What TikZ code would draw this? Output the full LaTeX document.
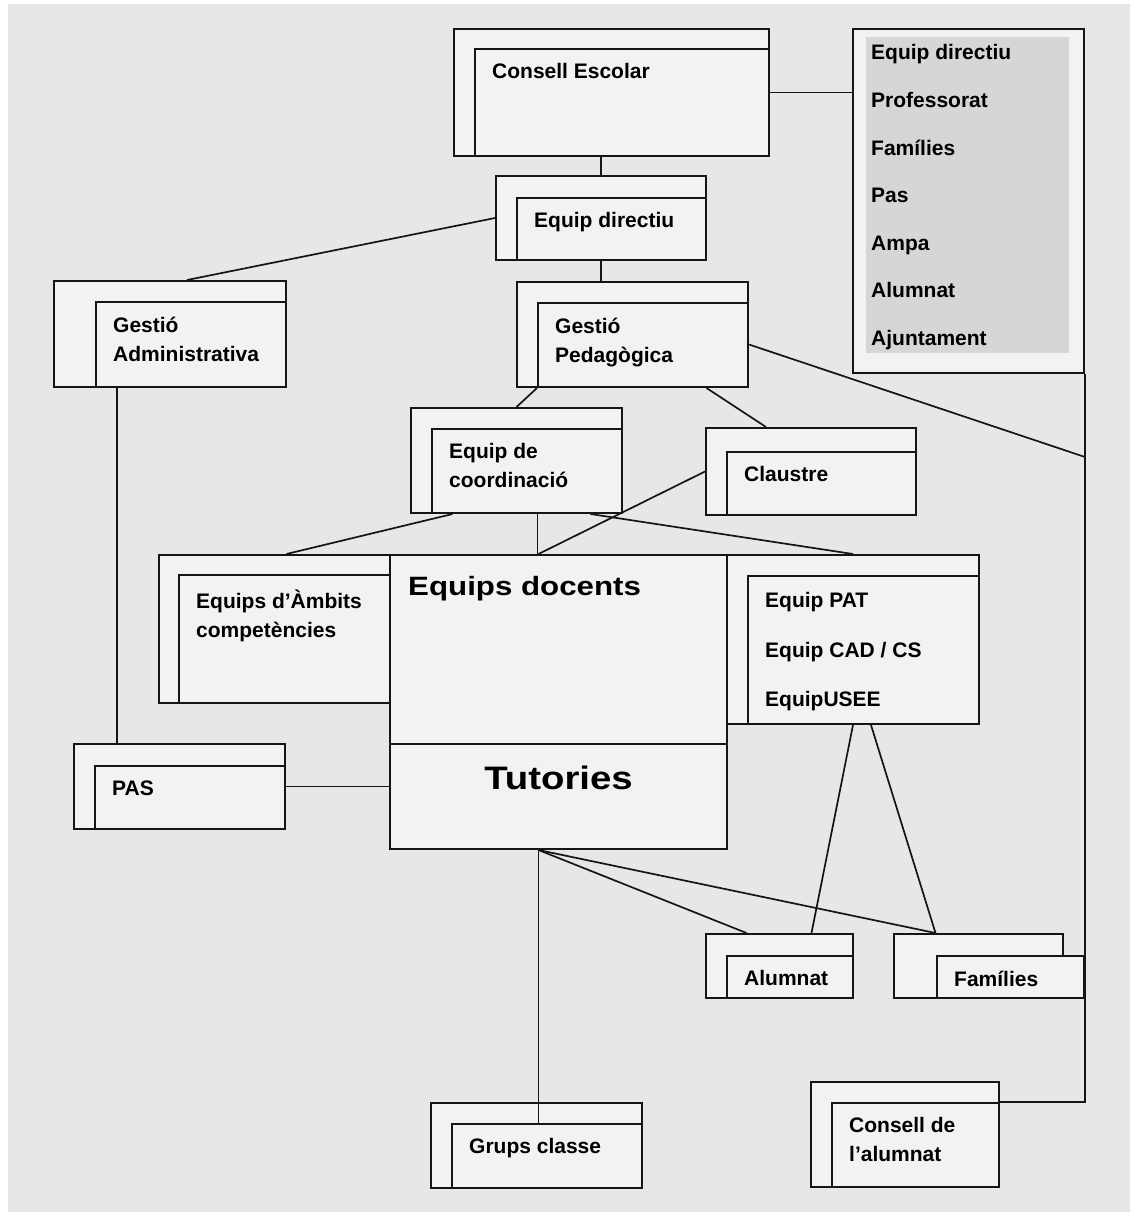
\documentclass[tikz,border=0pt]{standalone}
\usepackage{fontspec}
\setmainfont{Liberation Sans}
\newfontfamily\widefont[FakeStretch=1.18]{Liberation Sans}
\definecolor{scan}{HTML}{E7E7E7}
\definecolor{paper}{HTML}{F2F2F2}
\definecolor{shade}{HTML}{D6D6D6}
\definecolor{ink}{HTML}{151515}

\begin{document}
\begin{tikzpicture}[x=1pt,y=-1pt,
  outerbox/.style={draw=ink,fill=paper,line width=2pt,anchor=north west,inner sep=0pt},
  innerbox/.style={draw=ink,fill=paper,line width=2pt,anchor=south east,inner sep=0pt},
  lbl/.style={anchor=north west,align=left,inner sep=0pt,font=\fontsize{21}{29}\selectfont\bfseries},
  conn/.style={draw=ink,line width=1.7pt}]
\useasboundingbox (0,0) rectangle (1135,1216);
\fill[white] (0,0) rectangle (1135,1216);
\fill[scan] (8,4) rectangle (1130,1212);

% consell escolar i membres
\node[outerbox,minimum width=315pt,minimum height=127pt] (ce) at (453,28) {};
\node[innerbox,minimum width=294pt,minimum height=107pt] (cein) at (ce.south east) {};
\node[lbl] (celbl) at ([xshift=18pt,yshift=-15.5pt]cein.north west) {Consell Escolar};
\node[outerbox,minimum width=231pt,minimum height=344pt] (lst) at (852,28) {};
\node[anchor=north west,fill=shade,inner sep=0pt,minimum width=203pt,minimum height=316pt] (lstshade) at (866,37) {};
\node[lbl,font=\fontsize{21}{47.6}\selectfont\bfseries] (lstlbl) at (871,44.5) {Equip directiu\\Professorat\\Famílies\\Pas\\Ampa\\Alumnat\\Ajuntament};

% direccio i gestio
\node[outerbox,minimum width=210pt,minimum height=84pt] (dir) at (495,175) {};
\node[innerbox,minimum width=189pt,minimum height=62pt] (dirin) at (dir.south east) {};
\node[lbl] (dirlbl) at ([xshift=18pt,yshift=-15.5pt]dirin.north west) {Equip directiu};
\node[outerbox,minimum width=231pt,minimum height=105pt] (gp) at (516,281) {};
\node[innerbox,minimum width=210pt,minimum height=84pt] (gpin) at (gp.south east) {};
\node[lbl] (gplbl) at ([xshift=18pt,yshift=-15.5pt]gpin.north west) {Gestió\\Pedagògica};
\node[outerbox,minimum width=232pt,minimum height=106pt] (ga) at (53,280) {};
\node[innerbox,minimum width=190pt,minimum height=85pt] (gain) at (ga.south east) {};
\node[lbl] (galbl) at ([xshift=18pt,yshift=-15.5pt]gain.north west) {Gestió\\Administrativa};

% coordinacio i claustre
\node[outerbox,minimum width=211pt,minimum height=105pt] (coord) at (410,407) {};
\node[innerbox,minimum width=190pt,minimum height=84pt] (coordin) at (coord.south east) {};
\node[lbl] (coordlbl) at ([xshift=18pt,yshift=-15.5pt]coordin.north west) {Equip de\\coordinació};
\node[outerbox,minimum width=210pt,minimum height=87pt] (claus) at (705,427) {};
\node[innerbox,minimum width=189pt,minimum height=63pt] (clausin) at (claus.south east) {};
\node[lbl] (clauslbl) at ([xshift=18pt,yshift=-15.5pt]clausin.north west) {Claustre};

% equips docents i tutories
\node[outerbox,minimum width=231pt,minimum height=148pt] (ambits) at (158,554) {};
\node[innerbox,minimum width=211pt,minimum height=128pt] (ambitsin) at (ambits.south east) {};
\node[lbl] (ambitslbl) at ([xshift=18pt,yshift=-15.5pt]ambitsin.north west) {Equips d’Àmbits\\competències};
\node[outerbox,minimum width=252pt,minimum height=169pt] (equips) at (726,554) {};
\node[innerbox,minimum width=231pt,minimum height=148pt] (equipsin) at (equips.south east) {};
\node[lbl,font=\fontsize{21}{49.5}\selectfont\bfseries] (equipslbl) at ([xshift=18pt,yshift=-17.5pt]equipsin.north west) {Equip PAT\\Equip CAD / CS\\EquipUSEE};
\node[outerbox,minimum width=337pt,minimum height=189pt] (docents) at (389,554) {};
\node[outerbox,minimum width=337pt,minimum height=105pt] (tutories) at (389,743) {};
\node[anchor=north west,inner sep=0pt,font=\widefont\fontsize{26.5}{30}\selectfont\bfseries] (docentslbl) at ([xshift=19pt,yshift=-22pt]docents.north west) {Equips docents};
\node[anchor=north,inner sep=0pt,font=\widefont\fontsize{32.5}{36}\selectfont\bfseries] (tutorieslbl) at ([yshift=-23pt]tutories.north) {Tutories};
\node[outerbox,minimum width=211pt,minimum height=85pt] (pas) at (73,743) {};
\node[innerbox,minimum width=190pt,minimum height=63pt] (pasin) at (pas.south east) {};
\node[lbl] (paslbl) at ([xshift=18pt,yshift=-15.5pt]pasin.north west) {PAS};

% alumnat, families, grups
\node[outerbox,minimum width=147pt,minimum height=64pt] (alum) at (705,933) {};
\node[innerbox,minimum width=126pt,minimum height=42pt] (alumin) at (alum.south east) {};
\node[lbl] (alumlbl) at ([xshift=18pt,yshift=-15.5pt]alumin.north west) {Alumnat};
\node[outerbox,minimum width=169pt,minimum height=64pt] (fam) at (893,933) {};
\node[innerbox,anchor=south west,minimum width=147pt,minimum height=42pt] (famin) at ([xshift=43pt]fam.south west) {};
\node[lbl] (famlbl) at ([xshift=18pt,yshift=-15.5pt]famin.north west) {Famílies};
\node[outerbox,minimum width=211pt,minimum height=85pt] (grups) at (430,1102) {};
\node[innerbox,minimum width=190pt,minimum height=64pt] (grupsin) at (grups.south east) {};
\node[lbl] (grupslbl) at ([xshift=18pt,yshift=-15.5pt]grupsin.north west) {Grups classe};
\node[outerbox,minimum width=188pt,minimum height=105pt] (calum) at (810,1081) {};
\node[innerbox,minimum width=167pt,minimum height=84pt] (calumin) at (calum.south east) {};
\node[lbl] (calumlbl) at ([xshift=18pt,yshift=-15.5pt]calumin.north west) {Consell de\\l’alumnat};

% connexions
\coordinate (gpend) at ([yshift=-83pt]lst.south east);
\coordinate (tf) at ([xshift=-20pt]tutories.south);
\draw[conn] (ce.east) -- (ce.east -| lst.west);
\draw[conn] (dir.north) -- (dir.north |- ce.south);
\draw[conn] (dir.south) -- (dir.south |- gp.north);
\draw[conn] (dir.west) -- ([xshift=17pt]ga.north);
\draw[conn] ([xshift=-53pt]ga.south) -- ([xshift=-53pt]ga.south |- pas.north);
\draw[conn] (gpin.south west) -- (coord.north);
\draw[conn] ([xshift=74pt]gp.south) -- ([xshift=-45pt]claus.north);
\draw[conn] ([yshift=-10pt]gp.east) -- (gpend);
\draw[conn] (lst.south east) |- (calumin.north east);
\draw[conn] ([xshift=-64pt]coord.south) -- ([xshift=12pt]ambits.north);
\draw[conn] ([xshift=21pt]coord.south) -- ([xshift=21pt]coord.south |- docents.north);
\draw[conn] ([xshift=74pt]coord.south) -- (equips.north);
\draw[conn] (claus.west) -- ([xshift=-20pt]docents.north);
\draw[conn] (pas.east) -- (pas.east -| tutories.west);
\draw[conn] (equips.south) -- ([xshift=32pt]alum.north);
\draw[conn] ([xshift=18pt]equips.south) -- ([xshift=-43pt]fam.north);
\draw[conn] (tf) -- (tf |- grupsin.north);
\draw[conn] (tf) -- ([xshift=-33pt]alum.north);
\draw[conn] (tf) -- ([xshift=-43pt]fam.north);
\end{tikzpicture}
\end{document}
